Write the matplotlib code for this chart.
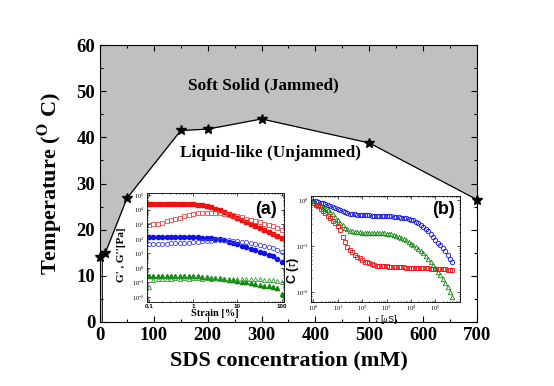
import matplotlib
matplotlib.use('Agg')
import matplotlib.pyplot as plt
from matplotlib.ticker import MultipleLocator, LogLocator, NullFormatter
import numpy as np

plt.rcParams['font.family'] = ['Liberation Serif', 'DejaVu Serif']
plt.rcParams['mathtext.fontset'] = 'stix'
plt.rcParams['xtick.direction'] = 'in'
plt.rcParams['ytick.direction'] = 'in'

# main phase diagram: jamming temperature vs SDS concentration
sds_mM = [0, 10, 50, 150, 200, 300, 500, 700]
temp_C = [14.0, 15.0, 26.8, 41.5, 41.8, 44.0, 38.8, 26.5]

# inset (a): G', G'' vs strain (values read as log10 of Pa)
strain = [0.1, 0.126, 0.158, 0.2, 0.251, 0.316, 0.398, 0.501, 0.631, 0.794,
          1, 1.26, 1.58, 2, 2.51, 3.16, 3.98, 5.01, 6.31, 7.94,
          10, 12.6, 15.8, 20, 25.1, 31.6, 39.8, 50.1, 63.1, 79.4, 100]
lg_g1_red = [4.38, 4.39, 4.38, 4.38, 4.39, 4.38, 4.38, 4.37, 4.37, 4.37,
             4.36, 4.33, 4.29, 4.24, 4.17, 4.08, 3.97, 3.85, 3.72, 3.58,
             3.45, 3.31, 3.17, 3.03, 2.89, 2.75, 2.62, 2.48, 2.35, 2.20, 2.05]
lg_g2_red = [2.94, 2.99, 3.05, 3.12, 3.20, 3.28, 3.37, 3.46, 3.55, 3.63,
             3.69, 3.74, 3.77, 3.78, 3.78, 3.77, 3.75, 3.72, 3.67, 3.61,
             3.54, 3.47, 3.39, 3.31, 3.23, 3.14, 3.05, 2.95, 2.85, 2.74, 2.62]
lg_g1_blue = [2.09, 2.10, 2.09, 2.09, 2.10, 2.09, 2.09, 2.09, 2.10, 2.09,
              2.09, 2.09, 2.08, 2.07, 2.05, 2.01, 1.96, 1.89, 1.81, 1.72,
              1.62, 1.52, 1.42, 1.32, 1.22, 1.12, 1.02, 0.91, 0.79, 0.63, 0.42]
lg_g2_blue = [1.63, 1.64, 1.65, 1.66, 1.67, 1.68, 1.69, 1.70, 1.72, 1.74,
              1.76, 1.79, 1.82, 1.85, 1.88, 1.90, 1.91, 1.91, 1.90, 1.88,
              1.85, 1.81, 1.77, 1.72, 1.66, 1.60, 1.52, 1.44, 1.35, 1.24, 1.12]
lg_g1_green = [-0.57, -0.55, -0.57, -0.56, -0.58, -0.56, -0.57, -0.55, -0.57, -0.56,
               -0.57, -0.59, -0.61, -0.64, -0.67, -0.70, -0.73, -0.77, -0.81, -0.85,
               -0.90, -0.95, -1.00, -1.05, -1.10, -1.16, -1.22, -1.28, -1.34, -1.42, -1.80]
lg_g2_green = [-1.35, -0.82, -0.78, -0.76, -0.74, -0.74, -0.73, -0.74, -0.73, -0.74,
               -0.73, -0.73, -0.74, -0.73, -0.74, -0.73, -0.74, -0.74, -0.74, -0.75,
               -0.75, -0.76, -0.77, -0.78, -0.79, -0.80, -0.82, -0.84, -0.86, -0.89, -0.95]

# inset (b): intensity correlation C(tau), read as log10 values
lg_tau = [0.0, 0.1, 0.2, 0.3, 0.4, 0.5, 0.6, 0.7, 0.8, 0.9,
          1.0, 1.1, 1.2, 1.3, 1.4, 1.5, 1.6, 1.7, 1.8, 1.9,
          2.0, 2.1, 2.2, 2.3, 2.4, 2.5, 2.6, 2.7, 2.8, 2.9,
          3.0, 3.1, 3.2, 3.3, 3.4, 3.5, 3.6, 3.7, 3.8, 3.9,
          4.0, 4.1, 4.2, 4.3, 4.4, 4.5, 4.6, 4.7, 4.8, 4.9,
          5.0, 5.1, 5.2, 5.3, 5.4, 5.5, 5.6, 5.7]
lg_c_blue = [-0.02, -0.03, -0.04, -0.055, -0.07, -0.09, -0.11, -0.13, -0.155, -0.18,
             -0.20, -0.225, -0.25, -0.27, -0.285, -0.30, -0.308, -0.315, -0.32, -0.325,
             -0.33, -0.332, -0.334, -0.336, -0.338, -0.34, -0.342, -0.344, -0.346, -0.348,
             -0.35, -0.354, -0.358, -0.363, -0.369, -0.375, -0.383, -0.392, -0.402, -0.412,
             -0.425, -0.445, -0.47, -0.50, -0.54, -0.58, -0.63, -0.68, -0.74, -0.80,
             -0.87, -0.93, -0.99, -1.05, -1.12, -1.20, -1.28, -1.35]
lg_c_green = [-0.06, -0.08, -0.10, -0.12, -0.15, -0.18, -0.22, -0.26, -0.31, -0.37,
              -0.43, -0.49, -0.55, -0.60, -0.64, -0.67, -0.685, -0.695, -0.70, -0.705,
              -0.71, -0.712, -0.714, -0.716, -0.718, -0.72, -0.722, -0.724, -0.726, -0.728,
              -0.73, -0.735, -0.745, -0.76, -0.78, -0.80, -0.82, -0.85, -0.88, -0.91,
              -0.95, -0.99, -1.03, -1.07, -1.11, -1.16, -1.22, -1.28, -1.35, -1.42,
              -1.49, -1.56, -1.64, -1.72, -1.81, -1.90, -2.00, -2.11]
lg_c_red = [-0.07, -0.10, -0.14, -0.19, -0.24, -0.29, -0.34, -0.40, -0.45, -0.50,
            -0.57, -0.66, -0.80, -0.92, -1.02, -1.08, -1.14, -1.19, -1.23, -1.27,
            -1.31, -1.34, -1.36, -1.38, -1.40, -1.42, -1.43, -1.43, -1.44, -1.44,
            -1.44, -1.45, -1.45, -1.45, -1.46, -1.46, -1.46, -1.46, -1.47, -1.47,
            -1.47, -1.47, -1.48, -1.48, -1.48, -1.49, -1.49, -1.49, -1.50, -1.50,
            -1.50, -1.50, -1.51, -1.51, -1.51, -1.52, -1.52, -1.52]

SANS = ['Liberation Sans', 'DejaVu Sans']

fig = plt.figure(figsize=(5.54, 3.86), dpi=100)
ax = fig.add_axes([0.1805, 0.166, 0.6805, 0.717])

# jammed region above the line
ax.fill_between(sds_mM, temp_C, 60, color='#c0c0c0', lw=0)
ax.fill_betweenx([0, temp_C[0]], 0, 3, color='#c0c0c0', lw=0)
ax.plot([3, 3], [0, temp_C[0]], color='k', lw=0.6)
ax.plot(sds_mM, temp_C, 'k-', lw=0.9, marker='*', ms=7, clip_on=False, zorder=5)

ax.set_xlim(0, 700)
ax.set_ylim(0, 60)
ax.xaxis.set_major_locator(MultipleLocator(100))
ax.xaxis.set_minor_locator(MultipleLocator(50))
ax.yaxis.set_major_locator(MultipleLocator(10))
ax.yaxis.set_minor_locator(MultipleLocator(5))
ax.tick_params(which='both', top=True, right=True, width=0.8)
ax.tick_params(which='major', length=4, labelsize=13.5)
ax.tick_params(which='minor', length=2.5)
for lab in ax.get_xticklabels() + ax.get_yticklabels():
    lab.set_fontweight('bold')
ax.set_xlabel('SDS concentration (mM)', fontsize=16, fontweight='bold', labelpad=5)
ax.set_ylabel(r'Temperature ($^{\mathbf{O}}$ C)', fontsize=16, fontweight='bold', labelpad=9)

ax.text(303, 51.3, 'Soft Solid (Jammed)', fontsize=12.4, fontweight='bold',
        ha='center', va='center')
ax.text(316, 36.6, 'Liquid-like (Unjammed)', fontsize=12.4, fontweight='bold',
        ha='center', va='center')

def style_inset(a):
    a.tick_params(which='both', top=True, right=True, labelsize=4.5,
                  width=0.5, pad=1.5)
    a.tick_params(which='major', length=2)
    a.tick_params(which='minor', length=1)
    for s in a.spines.values():
        s.set_linewidth(0.6)

# inset (a)
axa = fig.add_axes([0.265, 0.2176, 0.247, 0.2824], zorder=6)
kw = dict(ls='none', ms=3)
axa.plot(strain, np.power(10.0, lg_g1_red), marker='s', color='#f01010', **kw)
axa.plot(strain, np.power(10.0, lg_g2_red), marker='s', mfc='none', mec='#f04545', mew=0.6, **kw)
axa.plot(strain, np.power(10.0, lg_g1_blue), marker='o', color='#1010ee', **kw)
axa.plot(strain, np.power(10.0, lg_g2_blue), marker='o', mfc='none', mec='#4040ee', mew=0.6, **kw)
axa.plot(strain, np.power(10.0, lg_g1_green), marker='^', color='#108810', **kw)
axa.plot(strain, np.power(10.0, lg_g2_green), marker='^', mfc='none', mec='#30a030', mew=0.6, **kw)
axa.set_xscale('log')
axa.set_yscale('log')
axa.set_xlim(0.09, 110)
axa.set_ylim(10 ** -2.35, 10 ** 5.15)
axa.set_xticks([0.1, 1, 10, 100])
axa.set_xticklabels(['0.1', '1', '10', '100'], fontweight='bold', family=SANS)
axa.yaxis.set_major_locator(LogLocator(base=10, numticks=12))
axa.yaxis.set_minor_locator(LogLocator(base=10, subs=np.arange(2, 10), numticks=12))
axa.yaxis.set_minor_formatter(NullFormatter())
style_inset(axa)
axa.set_xlabel('Strain [%]', fontsize=7.5, fontweight='bold', labelpad=0)
axa.set_ylabel("G' , G''[Pa]", fontsize=8, fontweight='bold')
axa.yaxis.set_label_coords(-0.15, 0.43)
axa.text(0.95, 0.845, '(a)', transform=axa.transAxes, ha='right', va='center',
         fontsize=13, fontweight='bold', family=SANS)

# inset (b)
axb = fig.add_axes([0.561, 0.2176, 0.269, 0.275], zorder=6)
kwb = dict(ls='none', ms=3.2, mfc='none', mew=0.6)
axb.plot(np.power(10.0, lg_tau), np.power(10.0, lg_c_blue), marker='o', mec='#1010ee', **kwb)
axb.plot(np.power(10.0, lg_tau), np.power(10.0, lg_c_green), marker='^', mec='#108810', **kwb)
axb.plot(np.power(10.0, lg_tau), np.power(10.0, lg_c_red), marker='s', mec='#f01010', **kwb)
axb.set_xscale('log')
axb.set_yscale('log')
axb.set_xlim(10 ** -0.1, 10 ** 6.0)
axb.set_ylim(10 ** -2.22, 10 ** 0.09)
axb.set_xticks([1, 10, 100, 1e3, 1e4, 1e5])
axb.xaxis.set_minor_locator(LogLocator(base=10, subs=np.arange(2, 10), numticks=12))
axb.xaxis.set_minor_formatter(NullFormatter())
axb.yaxis.set_minor_locator(LogLocator(base=10, subs=np.arange(2, 10), numticks=12))
axb.yaxis.set_minor_formatter(NullFormatter())
style_inset(axb)
axb.set_xlabel(r'$\tau$ [$\mu$S]', fontsize=6.5, labelpad=0, family=SANS)
axb.set_ylabel(r'C ($\tau$)', fontsize=9, fontweight='bold', family=SANS)
axb.yaxis.set_label_coords(-0.065, 0.3)
axb.text(0.966, 0.87, '(b)', transform=axb.transAxes, ha='right', va='center',
         fontsize=13, fontweight='bold', family=SANS)

fig.savefig('out.png', dpi=100)
